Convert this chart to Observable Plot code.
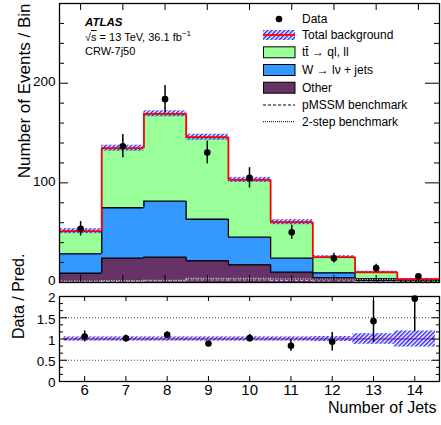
<!DOCTYPE html>
<html><head><meta charset="utf-8">
<script src="https://cdn.jsdelivr.net/npm/d3@7"></script>
<script src="https://cdn.jsdelivr.net/npm/@observablehq/plot@0.6"></script>
<style>
body{margin:0;background:#fff;color:#000;}
#wrap{position:relative;width:441px;height:425px;overflow:hidden;font-family:"Liberation Sans",Arial,Helvetica,sans-serif;}
#wrap svg{position:absolute;left:0;overflow:visible;}
.t{position:absolute;white-space:nowrap;line-height:1;}
.lg{position:absolute;left:302px;font-size:12px;line-height:12px;white-space:nowrap;}
</style></head><body><div id="wrap"></div>
<script>
// ---- data ----
const bins = [6, 7, 8, 9, 10, 11, 12, 13, 14];
const otherVals = [9.3, 24.4, 25.4, 21.8, 17.7, 10.4, 4.7, 2.5, 1.3];
const wjetsVals = [19.5, 50.6, 56.2, 41.7, 27.8, 14.0, 5.0, 1.2, 0.6];
const ttbarVals = [22.7, 59.8, 87.7, 82.3, 57.5, 36.1, 15.7, 6.6, 1.4];
const bkgUnc = [2.5, 3, 3, 3, 2.5, 2.5, 1.5, 1, 0.8];
const dataVals = [53.9, 136.8, 184, 130.5, 105, 50.5, 24.4, 14.4, 6.3];
const dataErr = [7.3, 11.7, 13.6, 11.4, 10.2, 7.1, 4.9, 3.8, 2.5];
const pmssmVals = [0.6, 0.9, 1.5, 2.5, 2.5, 2.0, 1.5, 1.0, 0.6];
const twoStepVals = [1.5, 1.8, 2.2, 4.2, 4.2, 3.6, 3.5, 3.0, 2.5];
const ratioVals = [1.06, 1.015, 1.10, 0.895, 1.02, 0.84, 0.935, 1.42, 1.95];
const ratioErr = [0.13, 0.08, 0.07, 0.05, 0.09, 0.13, 0.22, 0.5, 0.78];
const ratioUnc = [0.05, 0.05, 0.05, 0.05, 0.05, 0.05, 0.06, 0.125, 0.19];
const yTicksTop = [0, 100, 200];
const yMinorTop = [20, 40, 60, 80, 120, 140, 160, 180, 220, 240, 260];
const yTicksBot = [0, 0.5, 1, 1.5, 2];
const yMinorBot = [1/6, 2/6, 4/6, 5/6, 7/6, 8/6, 10/6, 11/6];
const yGridBot = [0.5, 1.5];
const legendLabels = ["Data", "Total background", "tt\u0304 \u2192 ql, ll", "W \u2192 l\u03bd + jets", "Other", "pMSSM benchmark", "2-step benchmark"];

const colOther = "#663366", colW = "#3399ff", colTT = "#99ff99";
const HATCH = "#1a1aff";
const FONT = '"Liberation Sans", Arial, Helvetica, sans-serif';

const idx = bins.map((_, i) => i);
const wTop = idx.map(i => otherVals[i] + wjetsVals[i]);
const total = idx.map(i => wTop[i] + ttbarVals[i]);

function step(vals, style) {
  return [
    Plot.ruleY(idx, {y: i => vals[i], x1: i => bins[i] - 0.5, x2: i => bins[i] + 0.5, ...style}),
    Plot.ruleX(idx.slice(0, -1), {x: i => bins[i] + 0.5, y1: i => vals[i], y2: i => vals[i + 1], ...style})
  ];
}
function hatchDef(sel, id) {
  const p = sel.append("pattern").attr("id", id).attr("patternUnits", "userSpaceOnUse")
    .attr("width", 3).attr("height", 3).attr("patternTransform", "rotate(45)");
  p.append("line").attr("x1", 0.75).attr("y1", 0).attr("x2", 0.75).attr("y2", 3)
    .attr("stroke", HATCH).attr("stroke-width", 1.4);
}
function addHatch(svg, id) { hatchDef(d3.select(svg).insert("defs", ":first-child"), id); }

const W = 441, FW = 380;
// ---------- top panel ----------
const topH = 290, topMT = 3, topMB = 8, topFH = topH - topMT - topMB;
const topPlot = Plot.plot({
  width: W, height: topH, marginLeft: 59, marginRight: 2, marginTop: topMT, marginBottom: topMB,
  style: {fontFamily: FONT, background: "transparent", overflow: "visible"},
  x: {domain: [5.5, 14.5], axis: null},
  y: {domain: [0, 280], axis: null},
  marks: [
    Plot.rect(idx, {x1: i => bins[i] - 0.5, x2: i => bins[i] + 0.5, y1: i => 0, y2: i => otherVals[i], fill: colOther, shapeRendering: "crispEdges"}),
    Plot.rect(idx, {x1: i => bins[i] - 0.5, x2: i => bins[i] + 0.5, y1: i => otherVals[i], y2: i => wTop[i], fill: colW, shapeRendering: "crispEdges"}),
    Plot.rect(idx, {x1: i => bins[i] - 0.5, x2: i => bins[i] + 0.5, y1: i => wTop[i], y2: i => total[i], fill: colTT, shapeRendering: "crispEdges"}),
    ...step(otherVals, {stroke: "black", strokeWidth: 1.3}),
    ...step(wTop, {stroke: "black", strokeWidth: 1.3}),
    ...step(twoStepVals, {stroke: "#d8d8d8", strokeWidth: 1.2, strokeDasharray: "1,1.5"}),
    ...step(pmssmVals, {stroke: "#bbbbbb", strokeWidth: 1.2, strokeDasharray: "3,2"}),
    Plot.rect(idx, {x1: i => bins[i] - 0.5, x2: i => bins[i] + 0.5, y1: i => total[i] - bkgUnc[i], y2: i => total[i] + bkgUnc[i], fill: "url(#hatchTop)"}),
    ...step(total, {stroke: "#ff0000", strokeWidth: 1.8}),
    Plot.ruleX(idx, {x: i => bins[i], y1: i => dataVals[i] - dataErr[i], y2: i => dataVals[i] + dataErr[i], stroke: "black", strokeWidth: 1.5}),
    Plot.dot(idx, {x: i => bins[i], y: i => dataVals[i], r: 3.3, fill: "black", stroke: "none"}),
    Plot.tickY(yMinorTop, {y: d => d, insetRight: FW - 5, stroke: "black"}),
    Plot.tickY(yTicksTop, {y: d => d, insetRight: FW - 9, stroke: "black"}),
    Plot.tickY(yMinorTop, {y: d => d, insetLeft: FW - 5, stroke: "black"}),
    Plot.tickY(yTicksTop, {y: d => d, insetLeft: FW - 14, stroke: "black"}),
    Plot.tickX(bins, {x: d => d, insetTop: topFH - 7, stroke: "black"}),
    Plot.tickX(bins, {x: d => d, insetBottom: topFH - 7, stroke: "black"}),
    Plot.frame({stroke: "black", strokeWidth: 1.3}),
    Plot.axisY(yTicksTop, {tickSize: 0, tickPadding: 4, fontSize: 13.5, dy: -1.5, label: null, tickFormat: d => String(d)}),
    Plot.text(["Number of Events / Bin"], {frameAnchor: "top-left", dx: -42, rotate: -90, textAnchor: "end", fontSize: 17})
  ]
});
addHatch(topPlot, "hatchTop");
topPlot.style.top = "0px";

// ---------- bottom panel ----------
const botH = 135, botMT = 6, botMB = 44, botFH = botH - botMT - botMB;
const botPlot = Plot.plot({
  width: W, height: botH, marginLeft: 59, marginRight: 2, marginTop: botMT, marginBottom: botMB,
  style: {fontFamily: FONT, background: "transparent", overflow: "visible"},
  x: {domain: [5.39, 14.6], axis: null},
  y: {domain: [0, 2], axis: null},
  marks: [
    Plot.ruleY(yGridBot, {y: d => d, stroke: "#444", strokeWidth: 1, strokeDasharray: "1,2"}),
    Plot.ruleY([1], {y: d => d, x1: () => 5.5, x2: () => 14.5, stroke: "#ff0000", strokeWidth: 1.2}),
    Plot.rect(idx, {x1: i => bins[i] - 0.5, x2: i => bins[i] + 0.5, y1: i => 1 - ratioUnc[i], y2: i => 1 + ratioUnc[i], fill: "url(#hatchBot)"}),
    Plot.ruleX(idx, {x: i => bins[i], y1: i => ratioVals[i] - ratioErr[i], y2: i => ratioVals[i] + ratioErr[i], stroke: "black", strokeWidth: 1.5, clip: true}),
    Plot.dot(idx, {x: i => bins[i], y: i => ratioVals[i], r: 3.3, fill: "black", stroke: "none"}),
    Plot.tickY(yMinorBot, {y: d => d, insetRight: FW - 4, stroke: "black"}),
    Plot.tickY(yTicksBot, {y: d => d, insetRight: FW - 8, stroke: "black"}),
    Plot.tickY(yMinorBot, {y: d => d, insetLeft: FW - 3, stroke: "black"}),
    Plot.tickY(yTicksBot, {y: d => d, insetLeft: FW - 7, stroke: "black"}),
    Plot.tickX(bins, {x: d => d, insetTop: botFH - 5, stroke: "black"}),
    Plot.tickX(bins, {x: d => d, insetBottom: botFH - 5, stroke: "black"}),
    Plot.frame({stroke: "black", strokeWidth: 1.3}),
    Plot.axisY(yTicksBot, {tickSize: 0, tickPadding: 4, fontSize: 13.5, dy: 1.5, label: null, tickFormat: d => String(d)}),
    Plot.axisX(bins, {tickSize: 0, tickPadding: 3, fontSize: 15, label: null, tickFormat: d => String(d)}),
    Plot.text(["Data / Pred."], {frameAnchor: "left", dx: -41, rotate: -90, fontSize: 16}),
    Plot.text(["Number of Jets"], {frameAnchor: "bottom-right", dx: -3, dy: 31, textAnchor: "end", fontSize: 16})
  ]
});
addHatch(botPlot, "hatchBot");
botPlot.style.top = "290px";

const wrap = document.getElementById("wrap");
wrap.appendChild(topPlot);
wrap.appendChild(botPlot);

// ---------- text labels ----------
function addDiv(cls, html, css) {
  const d = document.createElement("div");
  d.className = cls; d.innerHTML = html; Object.assign(d.style, css); wrap.appendChild(d); return d;
}
addDiv("t", "ATLAS", {left: "85px", top: "16.5px", fontSize: "11.5px", fontWeight: "bold", fontStyle: "italic"});
addDiv("t", '&radic;<span style="text-decoration:overline">s</span> = 13 TeV, 36.1 fb<sup style="font-size:8px;vertical-align:5px">&minus;1</sup>', {left: "85px", top: "30px", fontSize: "11px"});
addDiv("t", "CRW-7j50", {left: "85px", top: "46px", fontSize: "11px"});

// ---------- legend ----------
const legendY = [19, 35, 52.3, 70, 87.7, 105, 121.7];
legendLabels.forEach((lab, k) => addDiv("lg", lab, {top: (legendY[k] - 6) + "px"}));
const sw = d3.select(wrap).append("svg").attr("width", 441).attr("height", 140).style("top", "0px").style("pointer-events", "none");
hatchDef(sw.append("defs"), "hatchLeg");
sw.append("circle").attr("cx", 279).attr("cy", legendY[0]).attr("r", 3.3).attr("fill", "black");
sw.append("rect").attr("x", 263).attr("y", legendY[1] - 5).attr("width", 32).attr("height", 10).attr("fill", "url(#hatchLeg)");
sw.append("line").attr("x1", 263).attr("x2", 295).attr("y1", legendY[1]).attr("y2", legendY[1]).attr("stroke", "#ff0000").attr("stroke-width", 1.8);
[[colTT, 2], [colW, 3], [colOther, 4]].forEach(([c, k]) =>
  sw.append("rect").attr("x", 263.5).attr("y", legendY[k] - 5.5).attr("width", 31.5).attr("height", 11).attr("fill", c).attr("stroke", "black").attr("stroke-width", 1));
sw.append("line").attr("x1", 263).attr("x2", 295).attr("y1", legendY[5]).attr("y2", legendY[5]).attr("stroke", "black").attr("stroke-width", 1).attr("stroke-dasharray", "3,2");
sw.append("line").attr("x1", 263).attr("x2", 295).attr("y1", legendY[6]).attr("y2", legendY[6]).attr("stroke", "black").attr("stroke-width", 1).attr("stroke-dasharray", "1,1");
</script>
</body></html>
